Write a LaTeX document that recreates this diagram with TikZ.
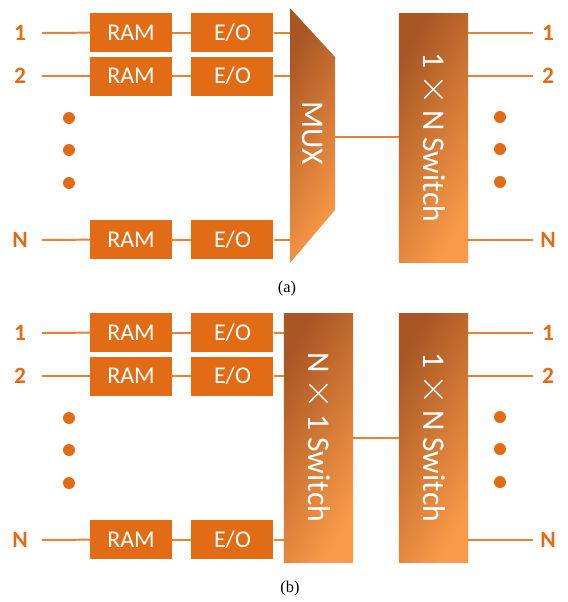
\documentclass[tikz,border=0pt]{standalone}
\usepackage{fontspec}
\setmainfont{Carlito}
\newfontfamily\capfont{Liberation Serif}
\usepackage{graphicx}
\usetikzlibrary{positioning}

\definecolor{boxorange}{RGB}{226,108,22}
\definecolor{wireorange}{RGB}{234,128,52}
\definecolor{swdark}{RGB}{168,86,36}
\definecolor{swlight}{RGB}{250,154,72}

\newcommand{\bigx}{\,\scalebox{1.35}{$\times$}\,}

\begin{document}
\begin{tikzpicture}[x=0.03cm, y=-0.03cm,
  block/.style={
    fill=boxorange, text=white, minimum width=2.46cm, minimum height=1.17cm,
    inner sep=0pt, font=\fontsize{20.5}{22}\selectfont
  },
  switchbox/.style={
    shading=axis, left color=swdark, right color=swlight, shading angle=60,
    text=white, minimum width=2.07cm, minimum height=7.47cm,
    inner sep=0pt, font=\fontsize{27}{29}\selectfont
  },
  wire/.style={
    draw=wireorange, line width=1.7pt
  },
  portlabel/.style={
    text=boxorange, minimum width=0.7cm, inner sep=0pt,
    font=\fontsize{20}{22}\selectfont\bfseries
  },
  dot/.style={
    fill=boxorange, draw=none
  }
]

% page
\useasboundingbox (0,0) rectangle (568,602);

% geometry
\def\yb{300}          % vertical offset of panel (b)

%%%%%%%%%%%%%%%%%%%% panel (a)

% inputs
\node[portlabel] (a-in1) at (20,33) {1};
\node[portlabel] (a-in2) at (20,76) {2};
\node[portlabel] (a-inN) at (20,240) {N};

% memory and converters
\node[block] (a-ram1) at (131,32.5) {RAM};
\node[block] (a-ram2) at (131,76) {RAM};
\node[block] (a-ramN) at (131,239.5) {RAM};
\node[block, right=0.57cm of a-ram1] (a-eo1) {E/O};
\node[block, right=0.57cm of a-ram2] (a-eo2) {E/O};
\node[block, right=0.57cm of a-ramN] (a-eoN) {E/O};

% multiplexer
\shade[left color=swdark, right color=swlight, shading angle=60]
  (290,8) -- (335,57) -- (335,210) -- (290,263) -- cycle;
\coordinate (a-muxl) at (290,137);
\coordinate (a-muxr) at (335,137);
\node[text=white, font=\fontsize{27}{29}\selectfont] (a-mux) at (313,133)
  {\rotatebox{-90}{MUX}};

% output switch
\node[switchbox] (a-sw) at (433.5,137.5) {\rotatebox{-90}{1\bigx N Switch}};

% outputs
\node[portlabel] (a-out1) at (548,33) {1};
\node[portlabel] (a-out2) at (548,76) {2};
\node[portlabel] (a-outN) at (548,240) {N};

% wires
\draw[wire, shorten <=0.3cm] (a-in1) -- (a-ram1);
\draw[wire, shorten <=0.3cm] (a-in2) -- (a-ram2);
\draw[wire, shorten <=0.3cm] (a-inN) -- (a-ramN);
\draw[wire] (a-ram1) -- (a-eo1);
\draw[wire] (a-ram2) -- (a-eo2);
\draw[wire] (a-ramN) -- (a-eoN);
\draw[wire] (a-eo1) -- (a-eo1 -| a-muxl);
\draw[wire] (a-eo2) -- (a-eo2 -| a-muxl);
\draw[wire] (a-eoN) -- (a-eoN -| a-muxl);
\draw[wire] (a-muxr) -- (a-muxr -| a-sw.west);
\draw[wire, shorten >=0.1cm] (a-sw.east |- a-out1) -- (a-out1);
\draw[wire, shorten >=0.1cm] (a-sw.east |- a-out2) -- (a-out2);
\draw[wire, shorten >=0.1cm] (a-sw.east |- a-outN) -- (a-outN);

% dots
\foreach \y in {118,150,183} \fill[dot] (69,\y) circle (0.18cm);
\foreach \y in {117,149,182} \fill[dot] (500,\y) circle (0.18cm);

\node[font=\capfont\fontsize{14}{16}\selectfont] (a-cap) at (287,289) {(a)};

%%%%%%%%%%%%%%%%%%%% panel (b)

% inputs
\node[portlabel] (b-in1) at (20,\yb+33) {1};
\node[portlabel] (b-in2) at (20,\yb+76) {2};
\node[portlabel] (b-inN) at (20,\yb+240) {N};

% memory and converters
\node[block] (b-ram1) at (131,\yb+32.5) {RAM};
\node[block] (b-ram2) at (131,\yb+76) {RAM};
\node[block] (b-ramN) at (131,\yb+239.5) {RAM};
\node[block, right=0.57cm of b-ram1] (b-eo1) {E/O};
\node[block, right=0.57cm of b-ram2] (b-eo2) {E/O};
\node[block, right=0.57cm of b-ramN] (b-eoN) {E/O};

% switches
\node[switchbox] (b-swin) at (318.5,\yb+137.5) {\rotatebox{-90}{N\bigx 1 Switch}};
\node[switchbox] (b-sw) at (433.5,\yb+137.5) {\rotatebox{-90}{1\bigx N Switch}};

% outputs
\node[portlabel] (b-out1) at (548,\yb+33) {1};
\node[portlabel] (b-out2) at (548,\yb+76) {2};
\node[portlabel] (b-outN) at (548,\yb+240) {N};

% wires
\draw[wire, shorten <=0.3cm] (b-in1) -- (b-ram1);
\draw[wire, shorten <=0.3cm] (b-in2) -- (b-ram2);
\draw[wire, shorten <=0.3cm] (b-inN) -- (b-ramN);
\draw[wire] (b-ram1) -- (b-eo1);
\draw[wire] (b-ram2) -- (b-eo2);
\draw[wire] (b-ramN) -- (b-eoN);
\draw[wire] (b-eo1) -- (b-eo1 -| b-swin.west);
\draw[wire] (b-eo2) -- (b-eo2 -| b-swin.west);
\draw[wire] (b-eoN) -- (b-eoN -| b-swin.west);
\draw[wire] (b-swin) -- (b-sw);
\draw[wire, shorten >=0.1cm] (b-sw.east |- b-out1) -- (b-out1);
\draw[wire, shorten >=0.1cm] (b-sw.east |- b-out2) -- (b-out2);
\draw[wire, shorten >=0.1cm] (b-sw.east |- b-outN) -- (b-outN);

% dots
\foreach \y in {118,150,183} \fill[dot] (69,\yb+\y) circle (0.18cm);
\foreach \y in {117,149,182} \fill[dot] (500,\yb+\y) circle (0.18cm);

\node[font=\capfont\fontsize{14}{16}\selectfont] (b-cap) at (290,\yb+289) {(b)};

\end{tikzpicture}
\end{document}
